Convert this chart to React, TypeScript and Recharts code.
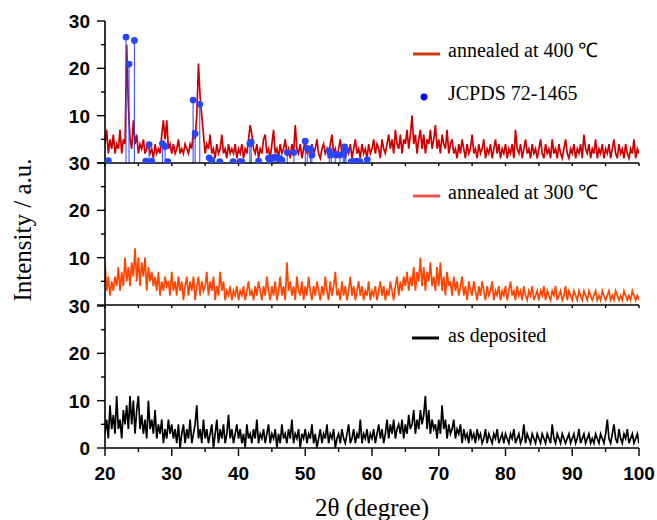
import { ComposedChart, Line, Scatter, ErrorBar, XAxis, YAxis } from 'recharts'

// 2θ sampling of the scans: 20° .. 100° every 0.25°
const ANGLE_START = 20
const ANGLE_STEP = 0.25

// intensities, one row = 5°
const annealed400 = [
  4, 7, 2, 5, 3, 6, 2, 4, 3, 7, 2, 5, 4, 25, 12, 5, 3, 9, 4, 6,
  2, 4, 3, 5, 2, 3, 4, 2, 3, 1, 4, 2, 3, 2, 6, 9, 5, 9, 3, 4,
  2, 4, 2, 3, 5, 2, 3, 2, 4, 3, 2, 4, 3, 7, 5, 10, 21, 14, 10, 6,
  2, 4, 3, 6, 2, 3, 1, 4, 2, 3, 6, 2, 3, 1, 4, 2, 3, 2, 4, 1,
  3, 2, 4, 1, 3, 2, 5, 8, 6, 3, 2, 4, 1, 3, 2, 5, 6, 2, 3, 1,
  4, 7, 2, 3, 1, 4, 2, 3, 5, 2, 3, 1, 4, 2, 8, 3, 2, 4, 1, 3,
  5, 2, 3, 1, 4, 2, 3, 5, 2, 1, 3, 4, 2, 3, 1, 4, 6, 2, 3, 1,
  3, 5, 2, 4, 1, 3, 2, 4, 1, 3, 5, 2, 3, 1, 4, 2, 3, 1, 4, 2,
  3, 5, 2, 4, 3, 1, 5, 3, 2, 4, 6, 3, 5, 2, 7, 4, 3, 6, 2, 5,
  4, 7, 3, 6, 10, 4, 6, 2, 5, 7, 3, 6, 2, 5, 4, 7, 3, 5, 8, 3,
  5, 2, 6, 4, 3, 7, 2, 4, 5, 2, 3, 1, 4, 2, 5, 3, 1, 4, 2, 3,
  6, 2, 3, 1, 4, 2, 3, 5, 1, 3, 2, 4, 1, 3, 5, 2, 4, 1, 3, 2,
  4, 1, 3, 2, 4, 1, 7, 3, 2, 4, 1, 3, 5, 2, 3, 1, 4, 2, 3, 1,
  3, 5, 2, 1, 4, 2, 3, 1, 5, 2, 3, 1, 4, 2, 1, 3, 5, 2, 1, 3,
  2, 4, 1, 3, 2, 4, 1, 6, 3, 2, 4, 1, 3, 2, 5, 1, 3, 2, 4, 1,
  3, 2, 4, 1, 3, 5, 2, 1, 4, 2, 3, 1, 4, 2, 1, 3, 2, 5, 1, 3,
  2,
]

const annealed300 = [
  9, 3, 6, 2, 5, 3, 6, 4, 8, 3, 7, 4, 10, 5, 8, 4, 9, 6, 12, 5,
  10, 4, 9, 6, 10, 3, 8, 5, 7, 4, 6, 3, 7, 2, 5, 3, 6, 4, 5, 2,
  7, 3, 5, 2, 6, 3, 5, 1, 4, 6, 2, 5, 3, 6, 1, 4, 6, 2, 5, 3,
  4, 7, 2, 5, 3, 6, 1, 4, 2, 7, 3, 5, 1, 3, 2, 4, 1, 3, 2, 4,
  1, 3, 2, 4, 1, 3, 5, 2, 3, 1, 4, 2, 5, 3, 1, 4, 2, 6, 3, 1,
  4, 2, 5, 1, 3, 6, 2, 4, 1, 9, 3, 5, 2, 4, 1, 6, 3, 2, 5, 1,
  4, 2, 6, 3, 1, 4, 2, 5, 3, 1, 4, 2, 6, 3, 1, 5, 2, 4, 7, 2,
  3, 1, 5, 2, 4, 1, 3, 6, 2, 4, 1, 3, 5, 2, 4, 1, 3, 2, 5, 1,
  3, 2, 4, 1, 3, 5, 2, 4, 1, 3, 2, 5, 3, 1, 4, 6, 2, 5, 3, 6,
  4, 7, 3, 6, 4, 8, 3, 7, 5, 10, 4, 8, 3, 7, 5, 9, 4, 6, 3, 8,
  4, 9, 3, 6, 2, 7, 4, 5, 2, 6, 3, 5, 2, 4, 6, 2, 4, 1, 5, 3,
  2, 5, 3, 1, 4, 2, 5, 3, 1, 4, 2, 3, 5, 1, 3, 2, 4, 1, 3, 2,
  4, 1, 3, 5, 2, 3, 1, 4, 2, 3, 1, 4, 2, 1, 3, 2, 4, 1, 2, 3,
  1, 3, 2, 4, 1, 3, 2, 1, 3, 2, 4, 1, 2, 3, 1, 2, 4, 1, 3, 2,
  1, 3, 2, 1, 3, 2, 1, 3, 2, 1, 3, 2, 1, 2, 3, 1, 2, 1, 3, 2,
  1, 2, 3, 1, 2, 1, 3, 2, 1, 2, 1, 3, 2, 1, 2, 1, 3, 2, 1, 2,
  1,
]

const asDeposited = [
  3, 6, 2, 9, 4, 7, 3, 11, 4, 6, 2, 8, 5, 9, 4, 11, 5, 10, 3, 8,
  11, 4, 7, 3, 6, 2, 10, 4, 6, 3, 8, 2, 5, 3, 6, 1, 4, 2, 6, 3,
  5, 2, 4, 1, 5, 0, 3, 5, 1, 4, 2, 6, 1, 3, 5, 9, 2, 4, 1, 6,
  2, 4, 1, 3, 5, 0, 3, 6, 1, 4, 2, 5, 1, 3, 7, 2, 4, 1, 3, 5,
  2, 4, 1, 3, 0, 5, 2, 3, 1, 4, 2, 6, 1, 3, 2, 4, 1, 3, 5, 1,
  3, 2, 4, 0, 3, 1, 5, 2, 3, 1, 4, 2, 6, 1, 3, 2, 4, 0, 3, 2,
  4, 1, 3, 2, 5, 1, 3, 0, 2, 4, 1, 3, 2, 5, 1, 3, 2, 4, 0, 2,
  3, 1, 4, 2, 1, 3, 5, 1, 2, 4, 1, 3, 2, 6, 1, 3, 2, 4, 1, 3,
  2, 4, 1, 3, 5, 2, 4, 1, 3, 6, 2, 5, 3, 6, 2, 4, 5, 3, 6, 2,
  5, 3, 7, 4, 5, 8, 3, 6, 4, 8, 5, 7, 11, 4, 8, 3, 6, 4, 5, 2,
  6, 3, 9, 4, 6, 2, 5, 3, 4, 6, 2, 4, 3, 5, 1, 4, 2, 3, 1, 4,
  2, 3, 1, 4, 2, 3, 1, 2, 4, 1, 3, 2, 1, 3, 2, 4, 1, 2, 3, 1,
  3, 2, 1, 3, 2, 4, 1, 2, 3, 1, 2, 5, 1, 3, 2, 1, 3, 2, 1, 3,
  2, 1, 3, 2, 1, 3, 2, 1, 5, 2, 1, 3, 2, 1, 3, 2, 1, 2, 3, 1,
  2, 3, 1, 2, 4, 1, 2, 3, 1, 2, 3, 1, 2, 1, 3, 2, 1, 3, 2, 1,
  3, 6, 2, 1, 3, 5, 2, 1, 4, 2, 1, 3, 2, 4, 1, 2, 3, 1, 2, 3,
  1,
]

// JCPDS 72-1465 reference lines
const jcpdsAngle = [
  20.5, 23.15, 23.6, 24.4, 26.1, 26.6, 27.0, 28.6, 29.0, 29.4, 33.2, 33.5,
  34.2, 35.6, 36.0, 37.2, 39.2, 40.2, 40.5, 41.7, 41.9, 43.0, 44.5, 44.7,
  45.3, 45.5, 45.9, 46.2, 46.5, 47.3, 48.3, 50.0, 50.3, 50.8, 51.0, 53.6,
  53.9, 54.5, 55.2, 55.7, 55.9, 56.1, 56.9, 57.3, 57.8, 58.2, 59.3,
]
const jcpdsIntensity = [
  0.5, 26.6, 20.9, 25.9, 0.4, 3.9, 0.4, 4.1, 3.5, 0.3, 13.3, 6.2,
  12.4, 1.1, 0.6, 0.3, 0.3, 0.3, 0.3, 4.1, 4.4, 0.4, 1.0, 0.6,
  1.2, 1.2, 1.0, 0.9, 0.6, 2.2, 2.2, 4.6, 3.1, 3.0, 1.7, 2.6,
  1.7, 1.8, 1.7, 1.9, 3.4, 2.7, 0.3, 0.4, 0.4, 0.3, 0.7,
]

const angleTicks = [20, 25, 30, 35, 40, 45, 50, 55, 60, 65, 70, 75, 80, 85, 90, 95, 100]
const intensityTicks = [0, 5, 10, 15, 20, 25, 30]

const toRows = (values: number[]) =>
  values.map((v, i) => ({ angle: ANGLE_START + i * ANGLE_STEP, v }))

const rows400 = toRows(annealed400)
const rows300 = toRows(annealed300)
const rowsDep = toRows(asDeposited)
const jcpdsRows = jcpdsAngle.map((angle, i) => ({
  angle,
  v: jcpdsIntensity[i],
  stick: [jcpdsIntensity[i], 0],
}))

const W = 657
const PLOT_H = 142
const TOP_PAD = 12
const MAJOR = 8
const MINOR = 4
const SANS = '"Liberation Sans", Arial, sans-serif'
const SERIF = '"Liberation Serif", "Times New Roman", serif'
const AXIS = { stroke: '#000', strokeWidth: 1.6 }
const DOT = '#2a45ff'
const serifText = { fontFamily: SERIF, fontSize: 20, fill: '#000' }

function IntensityTick(props: any) {
  const { x, y, payload, tickMargin, showZero } = props
  const axisX = x + tickMargin + MAJOR
  const major = payload.value % 10 === 0
  const len = major ? MAJOR : MINOR
  const label = major && (payload.value !== 0 || showZero)
  return (
    <g>
      <line x1={axisX - len} x2={axisX} y1={y} y2={y} stroke="#000" strokeWidth={1.4} />
      {label && (
        <text x={x} y={y} dy="0.36em" textAnchor="end" style={{ fontFamily: SANS, fontWeight: 'bold', fontSize: 19 }} fill="#000">
          {payload.value}
        </text>
      )}
    </g>
  )
}

function AngleTick(props: any) {
  const { x, y, payload, tickMargin, size, labeled } = props
  const axisY = y - tickMargin - size
  const major = payload.value % 10 === 0
  const len = labeled ? (major ? MAJOR : MINOR) : size
  return (
    <g>
      <line x1={x} x2={x} y1={axisY} y2={axisY + len} stroke="#000" strokeWidth={1.4} />
      {labeled && major && (
        <text x={x} y={y} dy="0.71em" textAnchor="middle" style={{ fontFamily: SANS, fontWeight: 'bold', fontSize: 19 }} fill="#000">
          {payload.value}
        </text>
      )}
    </g>
  )
}

interface PanelProps {
  rows: { angle: number; v: number }[]
  color: string
  plotTop: number
  bottom?: boolean
  withTop?: boolean
  withReference?: boolean
}

function Panel({ rows, color, plotTop, bottom, withTop, withReference }: PanelProps) {
  const axisH = bottom ? 68 : 6
  const tickSize = bottom ? MAJOR : 3
  const tickMargin = bottom ? 11 : 0
  const padBottom = bottom ? 4 : 0
  return (
    <div style={{ position: 'absolute', left: 0, top: plotTop - TOP_PAD }}>
      <ComposedChart
        width={W}
        height={TOP_PAD + PLOT_H + axisH + padBottom}
        data={rows}
        margin={{ top: TOP_PAD, right: 18, bottom: padBottom, left: 0 }}
      >
        <XAxis
          xAxisId="b"
          dataKey="angle"
          type="number"
          domain={[20, 100]}
          ticks={angleTicks}
          interval={0}
          allowDataOverflow
          height={axisH}
          tickSize={tickSize}
          tickMargin={tickMargin}
          tickLine={false}
          axisLine={AXIS}
          tick={(p: any) => (
            <AngleTick {...p} tickMargin={tickMargin} size={tickSize} labeled={!!bottom} />
          )}
          label={
            bottom
              ? {
                  value: '2θ (degree)',
                  position: 'insideBottom',
                  offset: 0,
                  fontSize: 25,
                  fontFamily: SERIF,
                  fill: '#000',
                }
              : undefined
          }
        />
        <XAxis
          xAxisId="t"
          orientation="top"
          dataKey="angle"
          type="number"
          domain={[20, 100]}
          height={0}
          tick={false}
          tickLine={false}
          axisLine={withTop ? AXIS : false}
        />
        <YAxis
          yAxisId="l"
          type="number"
          domain={[0, 30]}
          ticks={intensityTicks}
          interval={0}
          allowDataOverflow
          width={105}
          tickSize={MAJOR}
          tickMargin={7}
          tickLine={false}
          axisLine={AXIS}
          tick={(p: any) => <IntensityTick {...p} tickMargin={7} showZero={!!bottom} />}
        />
        <YAxis
          yAxisId="r"
          orientation="right"
          type="number"
          domain={[0, 30]}
          width={0}
          tick={false}
          tickLine={false}
          axisLine={AXIS}
        />
        <Line
          xAxisId="b"
          yAxisId="l"
          dataKey="v"
          type="linear"
          stroke={color}
          strokeWidth={1.7}
          strokeLinejoin="miter"
          dot={false}
          activeDot={false}
          isAnimationActive={false}
        />
        {withReference && (
          <Scatter
            xAxisId="b"
            yAxisId="l"
            data={jcpdsRows}
            dataKey="v"
            isAnimationActive={false}
            shape={(p: any) => <circle cx={p.cx} cy={p.cy} r={3.4} fill={DOT} />}
          >
            <ErrorBar dataKey="stick" direction="y" width={0} stroke={DOT} strokeWidth={1} isAnimationActive={false} />
          </Scatter>
        )}
      </ComposedChart>
    </div>
  )
}

export default function App() {
  return (
    <div style={{ position: 'absolute', left: 0, top: 0, width: W, height: 520, background: '#fff' }}>
      <Panel rows={rows400} color="#cc0000" plotTop={21} withTop withReference />
      <Panel rows={rows300} color="#ff4500" plotTop={163} />
      <Panel rows={rowsDep} color="#000000" plotTop={306} bottom />

      {/* legends and y title */}
      <svg width={W} height={520} style={{ position: 'absolute', left: 0, top: 0, pointerEvents: 'none' }}>
        <line x1={413} x2={440} y1={54} y2={54} stroke="#d33a12" strokeWidth={3} />
        <text x={448} y={57} style={serifText}>annealed at 400 ℃</text>
        <circle cx={424} cy={97} r={3.4} fill="#0000ff" />
        <text x={448} y={100} style={serifText}>JCPDS 72-1465</text>
        <line x1={413} x2={440} y1={196} y2={196} stroke="#f05050" strokeWidth={3} />
        <text x={448} y={198.5} style={serifText}>annealed at 300 ℃</text>
        <line x1={412} x2={439} y1={338} y2={338} stroke="#000" strokeWidth={3} />
        <text x={448} y={341.5} style={serifText}>as deposited</text>
        <text
          x={0}
          y={0}
          transform="translate(31 230) rotate(-90)"
          textAnchor="middle"
          style={{ fontFamily: SERIF, fontSize: 25, fill: '#000' }}
        >
          Intensity / a.u.
        </text>
      </svg>
    </div>
  )
}
